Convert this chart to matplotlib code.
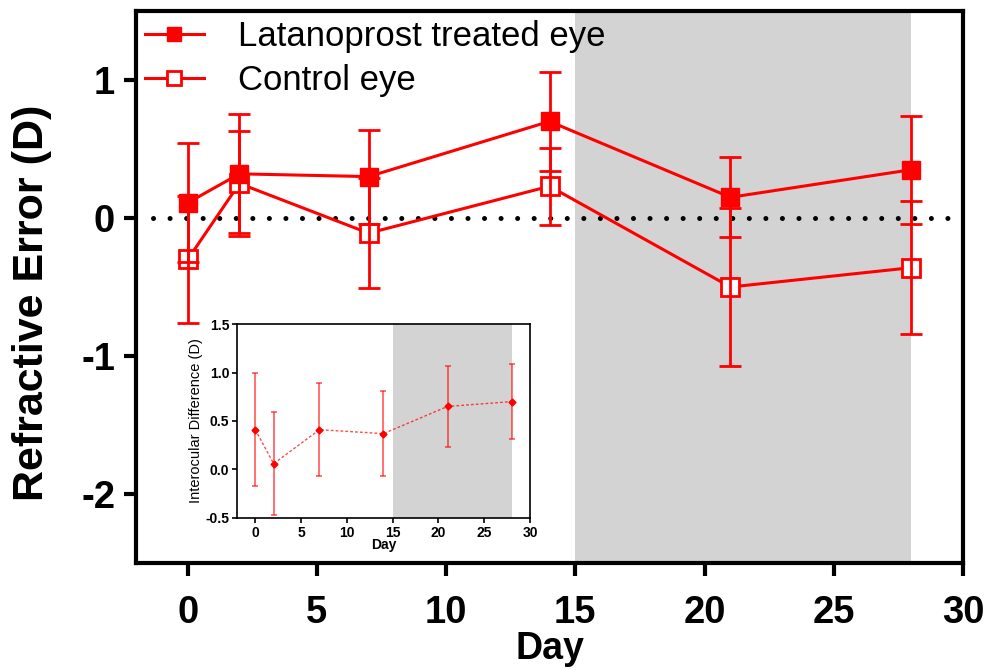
#!/usr/bin/env python3

import matplotlib
matplotlib.use('Agg')
import matplotlib.pyplot as plt
import numpy as np

plt.rcParams['font.family'] = ['Liberation Sans', 'DejaVu Sans']

#-----------
# DATA
#-----------
days = [0, 2, 7, 14, 21, 28]

treated = [0.11, 0.32, 0.30, 0.70, 0.15, 0.35]
treated_err = [0.43, 0.43, 0.34, 0.36, 0.29, 0.39]

control = [-0.30, 0.25, -0.11, 0.23, -0.50, -0.36]
control_err = [0.46, 0.38, 0.40, 0.28, 0.57, 0.48]

diff = [0.41, 0.06, 0.41, 0.37, 0.65, 0.70]
diff_err = [0.58, 0.53, 0.48, 0.44, 0.42, 0.39]

shade_start, shade_end = 15, 28

xticks = [0, 5, 10, 15, 20, 25, 30]
yticks = [-2, -1, 0, 1]
inset_yticks = [-0.5, 0.0, 0.5, 1.0, 1.5]

#-----------
# MAIN PLOT
#-----------
fig = plt.figure(figsize=(9.88, 6.7), dpi=100)
ax = fig.add_axes([0.1377, 0.1597, 0.8370, 0.8239])

ax.axvspan(shade_start, shade_end, color='#d3d3d3', lw=0, zorder=0)
ax.axhline(0, xmin=0.02, color='black', lw=3.6, linestyle=(0, (0.01, 3.3)),
  dash_capstyle='round', zorder=1)

ax.plot(days, control, color='red', lw=2.2, marker='s', markersize=12.5,
  markerfacecolor='white', markeredgecolor='red', markeredgewidth=2,
  label='Control eye', zorder=3)
ax.plot(days, treated, color='red', lw=2.2, marker='s', markersize=12.5,
  markerfacecolor='red', markeredgecolor='red', label='Latanoprost treated eye', zorder=3)

ax.errorbar(days, control, yerr=control_err, fmt='none', ecolor='red',
  elinewidth=2, capsize=8, capthick=2, zorder=4)
ax.errorbar(days, treated, yerr=treated_err, fmt='none', ecolor='red',
  elinewidth=2, capsize=8, capthick=2, zorder=4)

ax.set_xlim(-2, 30)
ax.set_ylim(-2.5, 1.5)
ax.set_xticks(xticks)
ax.set_xticklabels([str(t) for t in xticks])
ax.set_yticks(yticks)
ax.set_yticklabels([str(t) for t in yticks])

for s in ax.spines.values():
  s.set_linewidth(3)
ax.tick_params(direction='out', length=9, width=3, labelsize=27.5)
ax.tick_params(axis='x', pad=14)
ax.tick_params(axis='y', pad=6)
for lbl in ax.get_xticklabels() + ax.get_yticklabels():
  lbl.set_fontweight('bold')

ax.set_xlabel('Day', fontsize=27, fontweight='bold', labelpad=0)
ax.set_ylabel('Refractive Error (D)', fontsize=31, fontweight='bold')
ax.yaxis.set_label_coords(-0.102, 0.472)

# legend in the order of the picture
handles, labels = ax.get_legend_handles_labels()
ax.legend(handles[::-1], labels[::-1], loc='upper left', bbox_to_anchor=(0.0, 1.0),
  frameon=False, fontsize=25, markerscale=0.75, handlelength=1.7,
  handletextpad=1.0, labelspacing=0.32, borderaxespad=0.1, borderpad=0.15)

#-----------
# INSET
#-----------
ins = fig.add_axes([0.2399, 0.2269, 0.2965, 0.2895])
ins.axvspan(shade_start, shade_end, color='#d3d3d3', lw=0, zorder=0)
ins.plot(days, diff, color='red', lw=1, linestyle=(0, (2, 1.5)), alpha=0.7, zorder=2)
ins.errorbar(days, diff, yerr=diff_err, fmt='none', ecolor='red', alpha=0.7,
  elinewidth=1.1, capsize=2.5, capthick=1.1, zorder=3)
ins.plot(days, diff, linestyle='none', marker='D', markersize=3.5, color='red', zorder=4)

ins.set_xlim(-2, 30)
ins.set_ylim(-0.5, 1.5)
ins.set_xticks(xticks)
ins.set_yticks(inset_yticks)
ins.set_yticklabels([f'{t:.1f}' for t in inset_yticks])
for s in ins.spines.values():
  s.set_linewidth(1.2)
ins.tick_params(direction='out', length=3.5, width=1.2, labelsize=10, pad=2)
for lbl in ins.get_xticklabels() + ins.get_yticklabels():
  lbl.set_fontweight('bold')
ins.set_xlabel('Day', fontsize=10, fontweight='bold', labelpad=-1)
ins.set_ylabel('Interocular Difference (D)', fontsize=10.5, labelpad=2)

fig.savefig('out.png', dpi=100)
